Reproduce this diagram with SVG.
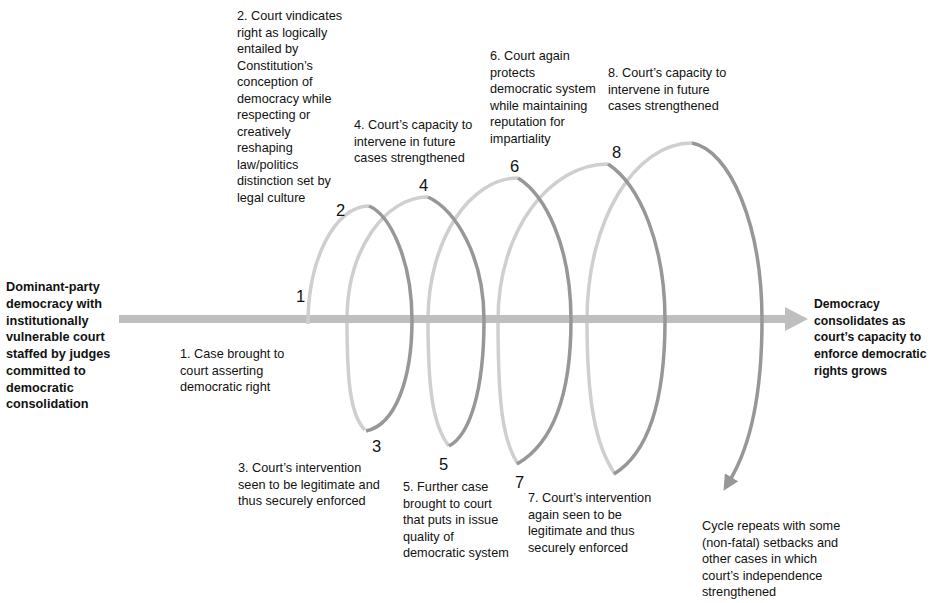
<svg xmlns="http://www.w3.org/2000/svg" width="930" height="603" viewBox="0 0 930 603">
<style>
text{font-family:"Liberation Sans",Arial,sans-serif;font-size:12.7px;fill:#111}
.b{font-weight:bold}
.r{font-size:12.2px}
.n{font-size:16.5px}
.lt{fill:none;stroke:#cfcfcf;stroke-width:3.5;stroke-linecap:butt}
.dk{fill:none;stroke:#979797;stroke-width:3.5;stroke-linecap:butt}
</style>
<defs>
<marker id="ah" viewBox="0 0 10 10" refX="2" refY="5" markerWidth="4.5" markerHeight="4.5" orient="auto" markerUnits="strokeWidth">
<path d="M0,0 L10,5 L0,10 z" fill="#979797"/>
</marker>
</defs>
<rect width="930" height="603" fill="#fff"/>
<g id="connectors">
<g id="light-arcs">
<path class="lt" d="M365,430 C350,415 347,380 347,320 C347,250 385,197 428,197"/>
<path class="lt" d="M449,446 C432,425 428,385 428,320 C428,240 470,178 518,178"/>
<path class="lt" d="M518,464 C502,440 498,400 498,320 C498,230 550,164 608,164"/>
<path class="lt" d="M615,474 C595,445 587,400 587,320 C587,220 635,143 692,143"/>
</g>
<g id="main-arrow">
<rect x="119" y="315" width="667" height="8" fill="#bfbfbf"/>
<path d="M785,307 L808,319 L785,331 z" fill="#bfbfbf"/>
</g>
<path class="lt" d="M308,324 C308,259 335,206 369,206"/>
<g id="dark-arcs">
<path class="dk" d="M369,206 C390,215 412,260 412,320 C412,380 395,425 366,431"/>
<path class="dk" d="M428,197 C455,210 484,255 484,320 C484,390 470,435 449,446"/>
<path class="dk" d="M518,178 C545,195 571,245 571,320 C571,400 550,445 517,464"/>
<path class="dk" d="M608,164 C640,185 665,245 665,320 C665,410 645,455 614,474"/>
<path class="dk" marker-end="url(#ah)" d="M692,143 C730,150 762,225 762,320 C762,400 748,450 730,480"/>
</g>
</g>
<g id="node-start">
<text class="b" x="6" y="291">Dominant-party</text>
<text class="b" x="6" y="308">democracy with</text>
<text class="b" x="6" y="325">institutionally</text>
<text class="b" x="6" y="341">vulnerable court</text>
<text class="b" x="6" y="358">staffed by judges</text>
<text class="b" x="6" y="375">committed to</text>
<text class="b" x="6" y="392">democratic</text>
<text class="b" x="6" y="408">consolidation</text>
</g>
<g id="node-end">
<text class="b r" x="814" y="308">Democracy</text>
<text class="b r" x="814" y="325">consolidates as</text>
<text class="b r" x="814" y="341">court’s capacity to</text>
<text class="b r" x="814" y="358">enforce democratic</text>
<text class="b r" x="814" y="375">rights grows</text>
</g>
<g id="step-1">
<text class="n" x="296" y="302">1</text>
<text x="180" y="358">1. Case brought to</text>
<text x="180" y="374.5">court asserting</text>
<text x="180" y="391">democratic right</text>
</g>
<g id="step-2">
<text class="n" x="336" y="216">2</text>
<text x="237" y="20">2. Court vindicates</text>
<text x="237" y="36.5">right as logically</text>
<text x="237" y="53">entailed by</text>
<text x="237" y="69.5">Constitution’s</text>
<text x="237" y="86">conception of</text>
<text x="237" y="102.5">democracy while</text>
<text x="237" y="119">respecting or</text>
<text x="237" y="135.5">creatively</text>
<text x="237" y="152">reshaping</text>
<text x="237" y="168.5">law/politics</text>
<text x="237" y="185">distinction set by</text>
<text x="237" y="201.5">legal culture</text>
</g>
<g id="step-3">
<text class="n" x="372" y="452">3</text>
<text x="238" y="472">3. Court’s intervention</text>
<text x="238" y="488.5">seen to be legitimate and</text>
<text x="238" y="505">thus securely enforced</text>
</g>
<g id="step-4">
<text class="n" x="419" y="191">4</text>
<text x="354" y="129">4. Court’s capacity to</text>
<text x="354" y="145.5">intervene in future</text>
<text x="354" y="162">cases strengthened</text>
</g>
<g id="step-5">
<text class="n" x="439" y="470">5</text>
<text x="403" y="491">5. Further case</text>
<text x="403" y="507.5">brought to court</text>
<text x="403" y="524">that puts in issue</text>
<text x="403" y="540.5">quality of</text>
<text x="403" y="557">democratic system</text>
</g>
<g id="step-6">
<text class="n" x="510" y="172">6</text>
<text x="490" y="60">6. Court again</text>
<text x="490" y="76.5">protects</text>
<text x="490" y="93">democratic system</text>
<text x="490" y="109.5">while maintaining</text>
<text x="490" y="126">reputation for</text>
<text x="490" y="142.5">impartiality</text>
</g>
<g id="step-7">
<text class="n" x="515" y="488">7</text>
<text x="528" y="502">7. Court’s intervention</text>
<text x="528" y="518.5">again seen to be</text>
<text x="528" y="535">legitimate and thus</text>
<text x="528" y="551.5">securely enforced</text>
</g>
<g id="step-8">
<text class="n" x="612" y="158">8</text>
<text x="608" y="77">8. Court’s capacity to</text>
<text x="608" y="93.5">intervene in future</text>
<text x="608" y="110">cases strengthened</text>
</g>
<g id="cycle">
<text x="702" y="530">Cycle repeats with some</text>
<text x="702" y="546.5">(non-fatal) setbacks and</text>
<text x="702" y="563">other cases in which</text>
<text x="702" y="579.5">court’s independence</text>
<text x="702" y="596">strengthened</text>
</g>
</svg>
